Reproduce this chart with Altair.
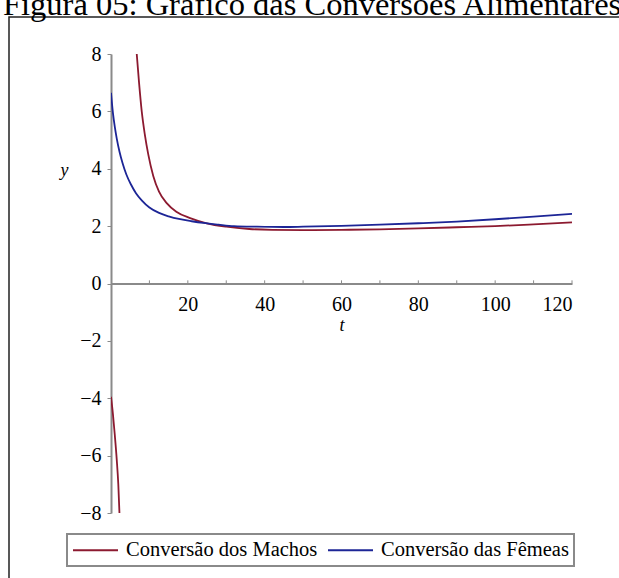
import altair as alt
import pandas as pd

# ---- data ----
serie_m = "Conversão dos Machos"
serie_f = "Conversão das Fêmeas"

male_lower_t = [0, 0.5, 1.0, 1.5, 1.9, 2.2]
male_lower_y = [-3.95, -4.55, -5.3, -6.15, -7.0, -8.0]

male_upper_t = [6.7, 7.3, 8.0, 8.8, 9.7, 11, 12.5, 14.5, 17, 20.6, 24.9, 30, 36, 42, 50, 60, 70, 80, 90, 100, 110, 120]
male_upper_y = [8.0, 7.0, 6.0, 5.2, 4.5, 3.75, 3.2, 2.8, 2.5, 2.28, 2.1, 1.98, 1.9, 1.87, 1.86, 1.87, 1.89, 1.92, 1.96, 2.0, 2.06, 2.13]

female_t = [0, 0.5, 1.0, 1.5, 2.2, 3, 4, 5.2, 6.5, 8, 10, 12.5, 15, 18, 21, 24, 28, 32, 38, 45, 50, 60, 70, 80, 90, 100, 110, 120]
female_y = [6.65, 5.95, 5.45, 5.05, 4.6, 4.2, 3.8, 3.45, 3.15, 2.9, 2.65, 2.46, 2.34, 2.24, 2.17, 2.11, 2.05, 2.0, 1.98, 1.97, 1.98, 2.01, 2.05, 2.1, 2.16, 2.24, 2.33, 2.43]

x_label_values = [20, 40, 60, 80, 100, 120]
x_tick_values = [10, 20, 30, 40, 50, 60, 70, 80, 90, 100, 110, 120]
y_tick_values = list(range(-8, 9))

title_text = "Figura 05: Gráfico das Conversões Alimentares"

red = "#8c1a30"
blue = "#1c2596"
axis_gray = "#8a8a8a"
serif = "Liberation Serif"

rows = []
for t, y in zip(male_lower_t, male_lower_y):
    rows.append({"t": t, "y": y, "serie": serie_m, "ramo": "m1"})
for t, y in zip(male_upper_t, male_upper_y):
    rows.append({"t": t, "y": y, "serie": serie_m, "ramo": "m2"})
for t, y in zip(female_t, female_y):
    rows.append({"t": t, "y": y, "serie": serie_f, "ramo": "f"})
df = pd.DataFrame(rows)

xscale = alt.Scale(domain=[0, 120], nice=False, zero=False)
yscale = alt.Scale(domain=[-8, 8], nice=False, zero=False)

W, H = 461, 459

lines = alt.Chart(df).mark_line(strokeWidth=1.8, interpolate="monotone", clip=True).encode(
    x=alt.X("t:Q", scale=xscale, axis=alt.Axis(
        values=x_label_values, offset=-H / 2, ticks=False, grid=False,
        domainColor=axis_gray, domainWidth=2,
        labelFont=serif, labelFontSize=20, labelColor="black", labelPadding=11,
        title="t", titleFont=serif, titleFontStyle="italic", titleFontWeight="normal",
        titleFontSize=18, titleColor="black", titlePadding=2)),
    y=alt.Y("y:Q", scale=yscale, axis=alt.Axis(
        values=y_tick_values, grid=False,
        labelExpr="datum.value % 2 == 0 ? datum.label : ''",
        tickSize=4, tickColor=axis_gray, domainColor=axis_gray, domainWidth=2,
        labelFont=serif, labelFontSize=20, labelColor="black", labelPadding=6,
        title="y", titleAngle=0, titleFont=serif, titleFontStyle="italic",
        titleFontWeight="normal", titleFontSize=18, titleColor="black",
        titleX=-47, titleY=116, titleAlign="center", titleBaseline="middle")),
    color=alt.Color("serie:N", scale=alt.Scale(domain=[serie_m, serie_f], range=[red, blue]),
                    legend=alt.Legend(
                        orient="none", legendX=-44, legendY=480, direction="horizontal",
                        title=None, symbolType="M-1,0H3.5", symbolSize=400, symbolStrokeWidth=2,
                        labelFont=serif, labelFontSize=20.5, labelColor="black", labelLimit=0,
                        labelOffset=32, columnPadding=6, padding=5,
                        strokeColor=axis_gray, fillColor="white")),
    detail="ramo:N",
)

tick_df = pd.DataFrame({"t": x_tick_values})
xticks = alt.Chart(tick_df).mark_rule(color=axis_gray, strokeWidth=1).encode(
    x=alt.X("t:Q", scale=xscale),
    y=alt.datum(0),
    y2=alt.datum(0.11),
)

one = pd.DataFrame({"k": [0]})
frame = alt.Chart(one).mark_rect(fill=None, stroke="#222222", strokeWidth=1.5).encode(
    x=alt.value(-102), x2=alt.value(560), y=alt.value(-37), y2=alt.value(560))

title = alt.Chart(one).mark_text(
    align="left", baseline="alphabetic", font=serif, fontSize=32.5, color="black"
).encode(x=alt.value(-108), y=alt.value(-39), text=alt.value(title_text))

chart = alt.layer(frame, title, xticks, lines).properties(
    width=W, height=H,
    autosize=alt.AutoSizeParams(type="none"),
    padding={"left": 111, "top": 54, "right": 47, "bottom": 65},
).configure_view(stroke=None).configure_legend(strokeWidth=2)

chart.save("out.html", embed_options={"renderer": "svg", "actions": False})
